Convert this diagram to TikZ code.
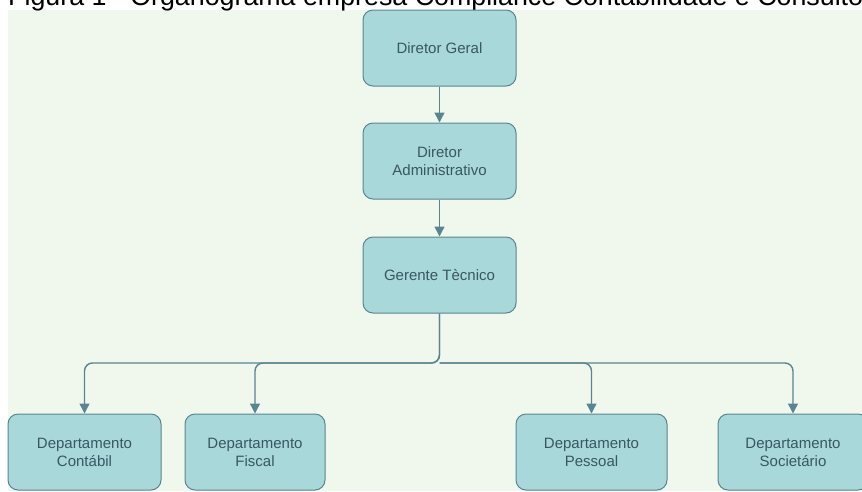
\documentclass[tikz,border=0pt]{standalone}
\usepackage{fontspec}
\setmainfont{Liberation Sans}
\usetikzlibrary{arrows.meta}
\definecolor{fundo}{HTML}{F0F8EE}
\definecolor{caixa}{HTML}{A8D8DA}
\definecolor{borda}{HTML}{5A8490}
\definecolor{letra}{HTML}{3A5663}
\tikzset{
cargo/.style={rectangle, rounded corners=10pt, draw=borda, fill=caixa, line width=1pt, text=letra, font=\fontsize{15}{18}\selectfont, align=center, minimum height=76pt, inner sep=0pt},
liga/.style={draw=borda, line width=1.4pt, -{Triangle[width=10pt,length=10pt]}, rounded corners=8pt}
}
\begin{document}
\begin{tikzpicture}[x=1pt,y=-1pt]
\useasboundingbox (0,0) rectangle (862,491);
\clip (0,0) rectangle (862,491);
\fill[fundo] (8,10) rectangle (862,491);
\node[anchor=base west, inner sep=0pt, font=\fontsize{26.8}{30}\selectfont] (titulo) at (8,5) {Figura 1 - Organograma empresa Compliance Contabilidade e Consultoria};
\node[cargo, minimum width=153pt] (geral) at (439.5,48){Diretor Geral};
\node[cargo, minimum width=153pt] (admin) at (439.5,161){Diretor\\Administrativo};
\node[cargo, minimum width=153pt] (gerente) at (439.5,275){Gerente Tècnico};
\coordinate (juncao) at (439.5,363);
\node[cargo, minimum width=153pt] (contabil) at (84.5,452){Departamento\\Contábil};
\node[cargo, minimum width=140pt] (fiscal) at (255,452){Departamento\\Fiscal};
\node[cargo, minimum width=151pt] (pessoal) at (591.5,452){Departamento\\Pessoal};
\node[cargo, minimum width=150pt] (societario) at (793,452){Departamento\\Societário};
\draw[liga](geral) -- (admin);
\draw[liga](admin) -- (gerente);
\draw[liga](gerente) -- (juncao) -| (contabil);
\draw[liga](gerente) -- (juncao) -| (fiscal);
\draw[liga](juncao) -| (pessoal);
\draw[liga](juncao) -| (societario);
\end{tikzpicture}
\end{document}
